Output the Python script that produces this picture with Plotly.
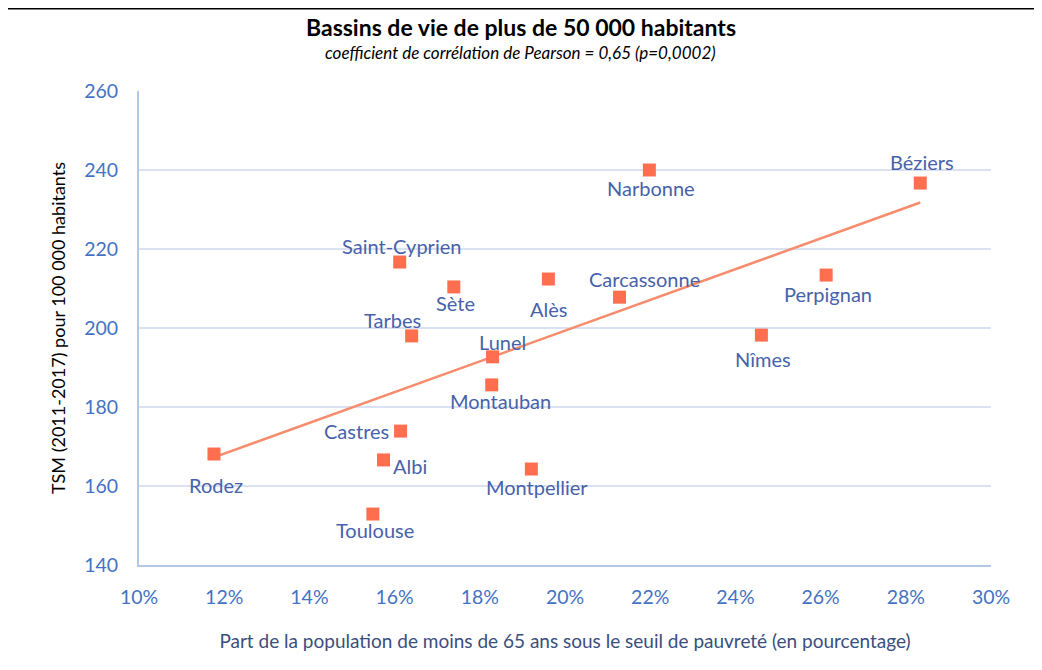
import numpy as np
import plotly.graph_objects as go

# Data
villes = ["Rodez", "Toulouse", "Montpellier", "Montauban", "Albi", "Castres", "Lunel",
          "Tarbes", "Nîmes", "Perpignan", "Carcassonne", "Alès", "Sète", "Saint-Cyprien",
          "Narbonne", "Béziers"]
pauvrete = [11.76, 15.49, 19.21, 18.28, 15.74, 16.14, 18.30,
            16.40, 24.61, 26.13, 21.28, 19.61, 17.39, 16.12,
            21.98, 28.34]
tsm = [168.1, 152.9, 164.3, 185.6, 166.6, 173.9, 192.7,
       198.0, 198.2, 213.4, 207.8, 212.4, 210.4, 216.7,
       240.0, 236.7]
x_ticks = [10, 12, 14, 16, 18, 20, 22, 24, 26, 28, 30]
y_ticks = [140, 160, 180, 200, 220, 240, 260]

# Label placement (pixel offsets: dx, dy-up)
label_offsets = {
    "Rodez": (2, -31), "Toulouse": (2, -16), "Montpellier": (6, -18),
    "Montauban": (9, -16), "Albi": (26, -6), "Castres": (-44, 0),
    "Lunel": (10, 15), "Tarbes": (-19, 16), "Nîmes": (2, -24),
    "Perpignan": (2, -19), "Carcassonne": (25, 18), "Alès": (0, -30),
    "Sète": (2, -16), "Saint-Cyprien": (2, 16), "Narbonne": (2, -18),
    "Béziers": (2, 21),
}

x = np.array(pauvrete)
y = np.array(tsm)
a, b = np.polyfit(x, y, 1)
xl = np.array([x.min(), x.max()])

FONT = "Lato, Open Sans, sans-serif"

fig = go.Figure()
fig.add_trace(go.Scatter(x=xl, y=a * xl + b, mode="lines",
                         line=dict(color="#F78C6C", width=2.5),
                         hoverinfo="skip", showlegend=False))
fig.add_trace(go.Scatter(x=pauvrete, y=tsm, mode="markers", text=villes,
                         marker=dict(symbol="square", size=13, color="#FF6E4E"),
                         showlegend=False))

label_font = dict(family=FONT, size=20, color="#4762AA")
for v, xv, yv in zip(villes, pauvrete, tsm):
    dx, dy = label_offsets[v]
    fig.add_annotation(x=xv, y=yv, text=v, showarrow=False, xshift=dx, yshift=dy,
                       font=label_font)

fig.add_annotation(xref="paper", yref="paper", x=0.448, y=1.0, yshift=64,
                   text="<b>Bassins de vie de plus de 50 000 habitants</b>",
                   showarrow=False, xanchor="center", yanchor="middle",
                   font=dict(family=FONT, size=23, color="#000000"))
fig.add_annotation(xref="paper", yref="paper", x=0.448, y=1.0, yshift=39,
                   text="<i>coefficient de corrélation de Pearson = 0,65 (p=0,0002)</i>",
                   showarrow=False, xanchor="center", yanchor="middle",
                   font=dict(family=FONT, size=17, color="#000000"))

fig.add_shape(type="line", xref="paper", yref="paper", x0=-0.16, x1=1.1,
              y0=1.175, y1=1.175, line=dict(color="#000000", width=3))

fig.update_layout(
    width=1042, height=670,
    margin=dict(l=131, r=59, t=83, b=113),
    plot_bgcolor="white", paper_bgcolor="white",
    xaxis=dict(range=[10, 30], tickvals=x_ticks,
               ticktext=[f"{t}%" for t in x_ticks],
               showgrid=False, zeroline=False,
               showline=True, linecolor="#B4C7E7", linewidth=2,
               tickfont=dict(family=FONT, size=19.5, color="#4472C4"),
               ticks="", ticklabelstandoff=14,
               title=dict(text="Part de la population de moins de 65 ans sous le seuil de pauvreté (en pourcentage)",
                          font=dict(family=FONT, size=19, color="#3B4E7C"),
                          standoff=27)),
    yaxis=dict(range=[140, 260], tickvals=y_ticks,
               showgrid=True, gridcolor="#D9E1F2", gridwidth=2, zeroline=False,
               showline=True, linecolor="#B4C7E7", linewidth=2,
               tickfont=dict(family=FONT, size=19.5, color="#4472C4"),
               ticks="", ticklabelstandoff=15,
               title=dict(text="TSM (2011-2017) pour 100 000 habitants",
                          font=dict(family=FONT, size=18, color="#000000"),
                          standoff=14)),
)

fig.write_html("out.html")
